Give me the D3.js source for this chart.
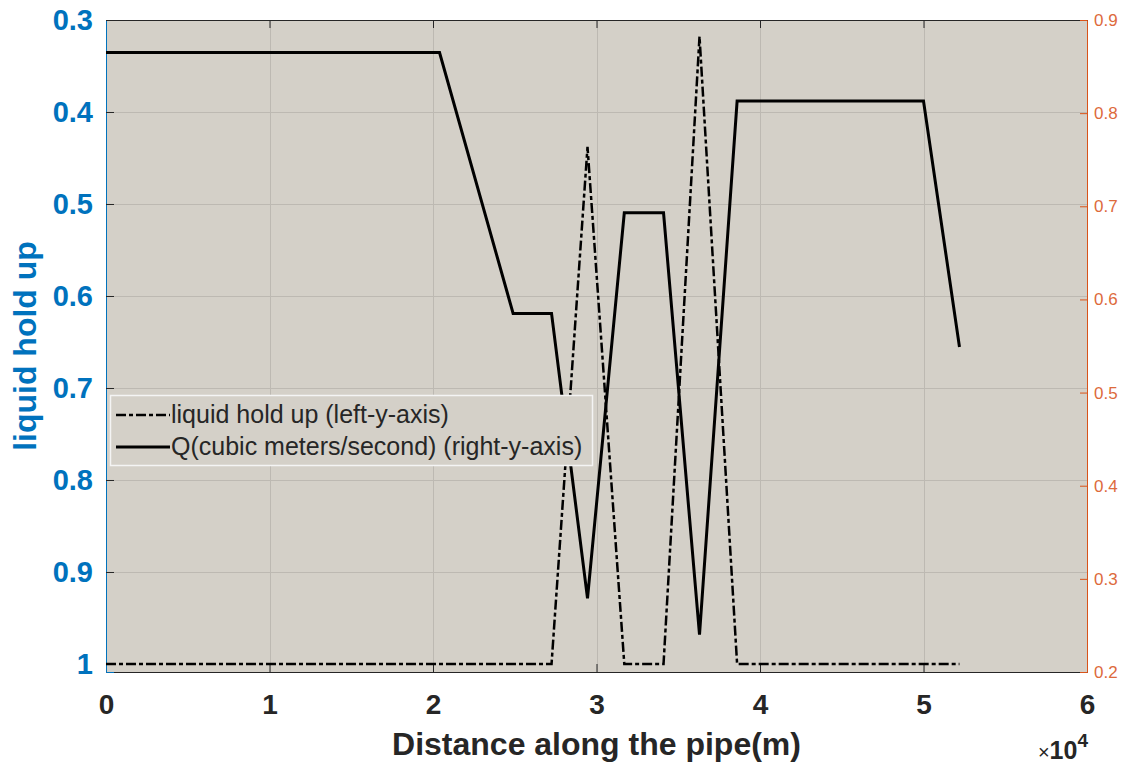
<!DOCTYPE html>
<html>
<head>
<meta charset="utf-8">
<script src="https://cdn.jsdelivr.net/npm/d3@7"></script>
<style>
  body { margin: 0; background: #fff; }
  svg { display: block; font-family: "Liberation Sans", Arial, Helvetica, sans-serif; }
</style>
</head>
<body>
<div id="chart"></div>
<script>
// distance along the pipe (m), shared by both series
var distance = [0, 20400, 24900, 27250, 29450, 31700, 34100, 36300, 38600, 50000, 52200];
// liquid hold up, left axis (reversed)
var holdUp = [1, 1, 1, 1, 0.438, 1, 1, 0.318, 1, 1, 1];
// Q in cubic meters / second, right axis
var flowQ = [0.865, 0.865, 0.585, 0.585, 0.279, 0.693, 0.693, 0.240, 0.813, 0.813, 0.549];

var xTicks = [0, 10000, 20000, 30000, 40000, 50000, 60000];
var leftTicks = [0.3, 0.4, 0.5, 0.6, 0.7, 0.8, 0.9, 1];
var rightTicks = [0.2, 0.3, 0.4, 0.5, 0.6, 0.7, 0.8, 0.9];

var legendLabels = ["liquid hold up (left-y-axis)", "Q(cubic meters/second) (right-y-axis)"];

var W = 1126, H = 767;
var plot = { left: 106, right: 1087, top: 20, bottom: 672 };
var blue = "#0072BD", orange = "#D95319", dark = "#262626";

var svg = d3.select("#chart").append("svg")
    .attr("width", W).attr("height", H);

var x = d3.scaleLinear().domain([0, 60000]).range([plot.left, plot.right]);
var yL = d3.scaleLinear().domain([0.3, 1.0087]).range([plot.top, plot.bottom]);
var yR = d3.scaleLinear().domain([0.2, 0.9]).range([plot.bottom, plot.top]);

// plot background
svg.append("rect")
    .attr("x", plot.left).attr("y", plot.top)
    .attr("width", plot.right - plot.left).attr("height", plot.bottom - plot.top)
    .attr("fill", "#d4d0c8");

// grid
var grid = svg.append("g").attr("stroke", "#bdb9b2").attr("stroke-width", 1);
grid.selectAll("line.gx").data(xTicks.slice(1, -1)).enter().append("line")
    .attr("x1", function(d){ return Math.round(x(d)) + 0.5; })
    .attr("x2", function(d){ return Math.round(x(d)) + 0.5; })
    .attr("y1", plot.top).attr("y2", plot.bottom);
grid.selectAll("line.gy").data(leftTicks.slice(1, -1)).enter().append("line")
    .attr("y1", function(d){ return Math.round(yL(d)) + 0.5; })
    .attr("y2", function(d){ return Math.round(yL(d)) + 0.5; })
    .attr("x1", plot.left).attr("x2", plot.right);

// axes
var xAxis = svg.append("g")
    .attr("transform", "translate(0," + plot.bottom + ")")
    .call(d3.axisBottom(x).tickValues(xTicks).tickSize(-8).tickPadding(22)
        .tickFormat(function(d){ return d / 10000; }));
xAxis.select(".domain").attr("stroke", dark);
xAxis.selectAll(".tick line").attr("stroke", dark);
xAxis.selectAll("text")
    .attr("fill", dark).attr("font-size", 28).attr("font-weight", "bold")
    .attr("font-family", "Liberation Sans, Arial, sans-serif");

var xTop = svg.append("g")
    .attr("transform", "translate(0," + plot.top + ")")
    .call(d3.axisTop(x).tickValues(xTicks).tickSize(-8).tickFormat(""));
xTop.select(".domain").attr("stroke", dark);
xTop.selectAll(".tick line").attr("stroke", dark);

var leftAxis = svg.append("g")
    .attr("transform", "translate(" + plot.left + ",0)")
    .call(d3.axisLeft(yL).tickValues(leftTicks).tickSize(-8).tickPadding(13)
        .tickFormat(d3.format("~g")));
leftAxis.select(".domain").attr("stroke", blue);
leftAxis.selectAll(".tick line").attr("stroke", dark);
leftAxis.selectAll("text")
    .attr("fill", blue).attr("font-size", 29).attr("font-weight", "bold")
    .attr("font-family", "Liberation Sans, Arial, sans-serif");

var rightAxis = svg.append("g")
    .attr("transform", "translate(" + plot.right + ",0)")
    .call(d3.axisRight(yR).tickValues(rightTicks).tickSize(-7).tickPadding(7)
        .tickFormat(d3.format(".1f")));
rightAxis.select(".domain").attr("stroke", orange);
rightAxis.selectAll(".tick line").attr("stroke", orange);
rightAxis.selectAll("text")
    .attr("fill", "#dd6a3c").attr("font-size", 17)
    .attr("font-family", "Liberation Sans, Arial, sans-serif");

// series
var pts = distance.map(function(d, i){ return { d: d, h: holdUp[i], q: flowQ[i] }; });

svg.append("path")
    .datum(pts)
    .attr("fill", "none").attr("stroke", "#000").attr("stroke-width", 3)
    .attr("stroke-linejoin", "miter")
    .attr("d", d3.line().x(function(p){ return x(p.d); }).y(function(p){ return yR(p.q); }));

svg.append("path")
    .datum(pts)
    .attr("fill", "none").attr("stroke", "#000").attr("stroke-width", 2.5)
    .attr("stroke-dasharray", "10,3,4,3")
    .attr("d", d3.line().x(function(p){ return x(p.d); }).y(function(p){ return yL(p.h); }));

// legend
var leg = svg.append("g").attr("transform", "translate(110,395)");
leg.append("rect")
    .attr("x", 0.5).attr("y", 0.5).attr("width", 482).attr("height", 70)
    .attr("fill", "#d4d0c8").attr("stroke", "#f4f4f4").attr("stroke-width", 1.5);
leg.selectAll("line.k").data(legendLabels).enter().append("line")
    .attr("x1", 6).attr("x2", 60)
    .attr("y1", function(d, i){ return 20 + i * 32; })
    .attr("y2", function(d, i){ return 20 + i * 32; })
    .attr("stroke", "#000")
    .attr("stroke-width", function(d, i){ return i ? 3 : 2.5; })
    .attr("stroke-dasharray", function(d, i){ return i ? null : "10,3,4,3"; });
leg.selectAll("text").data(legendLabels).enter().append("text")
    .attr("x", 61)
    .attr("y", function(d, i){ return 28 + i * 32; })
    .attr("font-size", 25).attr("fill", dark)
    .text(function(d){ return d; });

// axis labels
svg.append("text")
    .attr("transform", "translate(36," + ((plot.top + plot.bottom) / 2) + ") rotate(-90)")
    .attr("text-anchor", "middle")
    .attr("font-size", 32).attr("font-weight", "bold").attr("fill", blue)
    .text("liquid hold up");

svg.append("text")
    .attr("x", (plot.left + plot.right) / 2).attr("y", 755)
    .attr("text-anchor", "middle")
    .attr("font-size", 32).attr("font-weight", "bold").attr("fill", dark)
    .text("Distance along the pipe(m)");

var expo = svg.append("text")
    .attr("x", 1088).attr("y", 759)
    .attr("text-anchor", "end")
    .attr("font-size", 25).attr("font-weight", "bold").attr("fill", dark);
expo.append("tspan").attr("font-weight", "normal").attr("font-size", 20).text("\u00d7");
expo.append("tspan").text("10");
expo.append("tspan").attr("font-size", 19).attr("dy", -12).text("4");
</script>
</body>
</html>
